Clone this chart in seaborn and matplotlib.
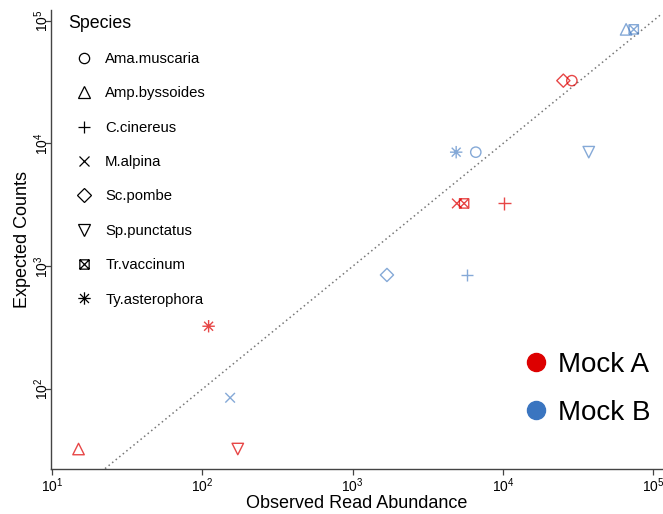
import matplotlib
matplotlib.use("Agg")
import matplotlib.pyplot as plt
from matplotlib.path import Path
from matplotlib.lines import Line2D
from matplotlib.ticker import LogLocator, LogFormatterMathtext, NullLocator
import pandas as pd
import numpy as np
import seaborn as sns

# data
species = ["Ama.muscaria", "Amp.byssoides", "C.cinereus", "M.alpina",
           "Sc.pombe", "Sp.punctatus", "Tr.vaccinum", "Ty.asterophora"]
mocks = ["Mock A", "Mock B"]
observed_a = [28700, 15.0, 10200, 4930, 25200, 172, 5510, 110]
expected_a = [32500, 32.5, 3250, 3250, 32500, 32.5, 3250, 325]
observed_b = [6590, 65900, 5770, 153, 1690, 37200, 74100, 4880]
expected_b = [8500, 85000, 850, 85, 850, 8500, 85000, 8500]

df = pd.DataFrame({
    "species": species * 2,
    "mock": ["Mock A"] * 8 + ["Mock B"] * 8,
    "observed": observed_a + observed_b,
    "expected": expected_a + expected_b,
})

# custom markers: square with X, and asterisk
sq_x = Path([(-1, -1), (1, -1), (1, 1), (-1, 1), (-1, -1),
             (-1, -1), (1, 1), (-1, 1), (1, -1)],
            [Path.MOVETO, Path.LINETO, Path.LINETO, Path.LINETO, Path.CLOSEPOLY,
             Path.MOVETO, Path.LINETO, Path.MOVETO, Path.LINETO])
d = 0.72
star = Path([(-1, 0), (1, 0), (0, -1), (0, 1), (-d, -d), (d, d), (-d, d), (d, -d)],
            [Path.MOVETO, Path.LINETO] * 4)
markers = {"Ama.muscaria": "o", "Amp.byssoides": "^", "C.cinereus": "+",
           "M.alpina": "x", "Sc.pombe": "D", "Sp.punctatus": "v",
           "Tr.vaccinum": sq_x, "Ty.asterophora": star}
sizes = {"Ama.muscaria": 55, "Amp.byssoides": 68, "C.cinereus": 80,
         "M.alpina": 48, "Sc.pombe": 45, "Sp.punctatus": 68,
         "Tr.vaccinum": 45, "Ty.asterophora": 80}
point_pal = {"Mock A": (0.87, 0.0, 0.0, 0.72), "Mock B": (0.23, 0.46, 0.75, 0.62)}
legend_pal = {"Mock A": "#DD0000", "Mock B": "#3A75C0"}

plt.rcParams["font.family"] = ["Liberation Sans", "DejaVu Sans"]
fig = plt.figure(figsize=(6.63, 5.14), dpi=100)
ax = fig.add_axes([0.0765, 0.0875, 0.9216, 0.893])

for sp in species:
    sub = df[df["species"] == sp]
    sns.scatterplot(data=sub, x="observed", y="expected", hue="mock",
                    palette=point_pal, hue_order=mocks, marker=markers[sp],
                    s=sizes[sp], linewidth=1.0, legend=False, ax=ax)
    coll = ax.collections[-1]
    fc = coll.get_facecolors()
    coll.set_edgecolors(fc)
    coll.set_facecolors("none")

ax.set_xscale("log")
ax.set_yscale("log")
ax.set_xlim(10 ** 0.991, 10 ** 5.056)
ax.set_ylim(10 ** 1.349, 10 ** 5.087)

# 1:1 line
ax.plot([1, 1e6], [1, 1e6], ls=(0, (1, 2)), color="#777777", lw=1.1,
        scalex=False, scaley=False, zorder=0)

for a in (ax.xaxis, ax.yaxis):
    a.set_major_locator(LogLocator(base=10, numticks=10))
    a.set_major_formatter(LogFormatterMathtext())
    a.set_minor_locator(NullLocator())
ax.tick_params(axis="both", labelsize=10, length=4, width=0.9,
               color="#444444", direction="out")
ax.tick_params(axis="x", pad=1.5)
ax.tick_params(axis="y", pad=-4.5)
plt.setp(ax.get_yticklabels(), rotation=90, va="center")

for s in ("top", "right"):
    ax.spines[s].set_visible(False)
for s in ("left", "bottom"):
    ax.spines[s].set_color("#444444")
    ax.spines[s].set_linewidth(1.0)

ax.set_xlabel("Observed Read Abundance", fontsize=13)
ax.set_ylabel("Expected Counts", fontsize=13)
ax.xaxis.set_label_coords(0.5, -0.057)
ax.yaxis.set_label_coords(-0.032, 0.5)

# species legend
sp_handles = [Line2D([], [], ls="none", marker=markers[sp], color="black",
                     mfc="none", mew=0.9, ms=np.sqrt(sizes[sp]))
              for sp in species]
leg1 = ax.legend(sp_handles, species, title="Species", loc="upper left",
                 bbox_to_anchor=(0.0064, 1.019), frameon=False, fontsize=10.7,
                 title_fontsize=12.8, labelspacing=1.37, handlelength=2.2,
                 handletextpad=0.3, alignment="left")
ax.add_artist(leg1)

# mock legend
mk_handles = [Line2D([], [], ls="none", marker="o", color=legend_pal[m],
                     ms=13) for m in mocks]
ax.legend(mk_handles, mocks, loc="lower right", bbox_to_anchor=(1.023, 0.039),
          frameon=False, fontsize=20, labelspacing=0.81, handlelength=1.0,
          handletextpad=0.3)

fig.savefig("out.png", dpi=100)
